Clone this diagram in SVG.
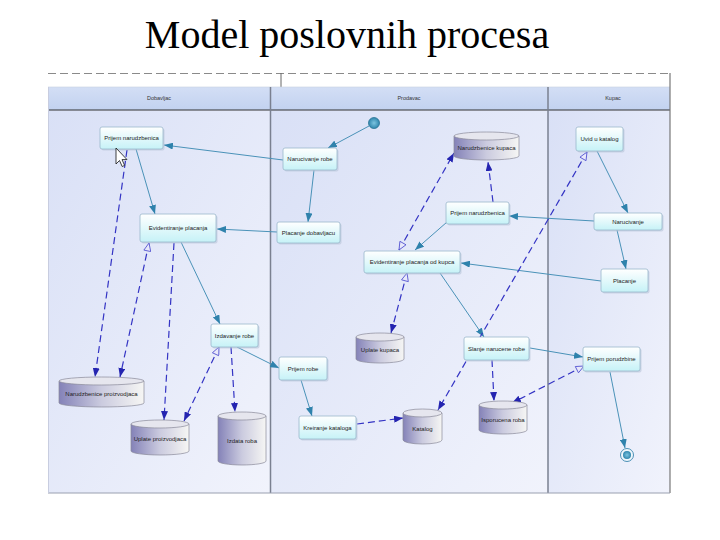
<svg xmlns="http://www.w3.org/2000/svg" width="720" height="540" viewBox="0 0 720 540">
<defs>
<style>
.title{font-family:"Liberation Serif","Times New Roman",serif;font-size:40px;fill:#000}
.lane{font-family:"Liberation Sans",Arial,sans-serif;font-size:5.5px;fill:#333;text-anchor:middle}
.lbl{font-family:"Liberation Sans",Arial,sans-serif;font-size:6px;fill:#222;text-anchor:middle}
.act{fill:url(#nodeG);stroke:#9bb8cc;stroke-width:0.8}
.sh{fill:#b8c4d8;opacity:0.6}
.cylb{fill:url(#cylG);stroke:#8a8a9a;stroke-width:0.7}
.cylt{fill:#e6e6ee;stroke:#8a8a9a;stroke-width:0.7}
.flow{stroke:#4a92b8;stroke-width:1;fill:none;marker-end:url(#aT)}
.obj{stroke:#3434c4;stroke-width:1.2;fill:none;stroke-dasharray:7 4;marker-end:url(#aB)}
.obj2{marker-start:url(#oB)}
.sep{stroke:#7a8090;stroke-width:1.5}
</style>
<linearGradient id="nodeG" x1="0" y1="0" x2="0" y2="1"><stop offset="0" stop-color="#ffffff"/><stop offset="1" stop-color="#c6f2f7"/></linearGradient>
<linearGradient id="cylG" x1="0" y1="0" x2="1" y2="0"><stop offset="0" stop-color="#8482b8"/><stop offset="0.5" stop-color="#cbcbdf"/><stop offset="1" stop-color="#f6f6f4"/></linearGradient>
<linearGradient id="laneG" x1="0" y1="0" x2="1" y2="1"><stop offset="0" stop-color="#d9e0f6"/><stop offset="1" stop-color="#f1f3fc"/></linearGradient>
<linearGradient id="headG" x1="0" y1="0" x2="0" y2="1"><stop offset="0" stop-color="#d3def5"/><stop offset="1" stop-color="#c2d2f0"/></linearGradient>
<radialGradient id="startG"><stop offset="0" stop-color="#7cc4e0"/><stop offset="1" stop-color="#2f86ad"/></radialGradient>
<marker id="aT" markerUnits="userSpaceOnUse" markerWidth="9" markerHeight="7" refX="9" refY="3.5" orient="auto"><path d="M0,0 L9,3.5 L0,7 z" fill="#2f82ac"/></marker>
<marker id="aB" markerUnits="userSpaceOnUse" markerWidth="9" markerHeight="7" refX="9" refY="3.5" orient="auto"><path d="M0,0 L9,3.5 L0,7 z" fill="#2424b0"/></marker>
<marker id="oB" markerUnits="userSpaceOnUse" markerWidth="10" markerHeight="8" refX="9" refY="4" orient="auto-start-reverse"><path d="M1,0.5 L9,4 L1,7.5 z" fill="#e8e8fa" stroke="#5050d0" stroke-width="0.8"/></marker>
</defs>

<rect width="720" height="540" fill="#ffffff"/>
<text class="title" x="347" y="48" text-anchor="middle">Model poslovnih procesa</text>

<g id="frame">
<rect x="48" y="87" width="622" height="23" fill="url(#headG)"/>
<rect x="48" y="110" width="222" height="383" fill="url(#laneG)"/>
<rect x="271" y="110" width="277" height="383" fill="url(#laneG)"/>
<rect x="548" y="110" width="122" height="383" fill="url(#laneG)"/>
<line x1="48" y1="73.5" x2="670" y2="73.5" stroke="#8a8a8a" stroke-width="1" stroke-dasharray="8 4"/>
<line x1="281" y1="73" x2="281" y2="87" stroke="#666" stroke-width="1"/>
<line x1="48" y1="87" x2="670" y2="87" stroke="#c8d0e0" stroke-width="0.6"/>
<line x1="48" y1="110" x2="670" y2="110" stroke="#333" stroke-width="1"/>
<line x1="270.5" y1="87" x2="270.5" y2="493" class="sep" stroke-width="1"/>
<line x1="548" y1="87" x2="548" y2="493" class="sep"/>
<line x1="670" y1="73" x2="670" y2="493" stroke="#777" stroke-width="1.2"/>
<line x1="48" y1="493" x2="670" y2="493" stroke="#9aa0b0" stroke-width="1"/>
<line x1="48.5" y1="87" x2="48.5" y2="493" stroke="#c8cde0" stroke-width="1"/>
<text class="lane" x="159" y="100">Dobavljac</text>
<text class="lane" x="409" y="100">Prodavac</text>
<text class="lane" x="613" y="100">Kupac</text>
</g>

<g id="connectors">
<path class="flow" d="M369,126 L328,148"/>
<path class="flow" d="M283,160 L164,145"/>
<path class="flow" d="M314,170 L308,222"/>
<path class="flow" d="M277,232 L217,229"/>
<path class="flow" d="M136,149 L155,214"/>
<path class="flow" d="M181,242 L220,324"/>
<path class="flow" d="M237,347 L279,368"/>
<path class="flow" d="M301,380 L312,416"/>
<path class="flow" d="M594,221 L509,216"/>
<path class="flow" d="M447,222 L415,250"/>
<path class="flow" d="M601,281 L461,263"/>
<path class="flow" d="M440,273 L484,337"/>
<path class="flow" d="M530,348 L583,357"/>
<path class="flow" d="M610,372 L625,448"/>
<path class="flow" d="M597,151 L628,213"/>
<path class="flow" d="M617,230 L626,269"/>
<path class="obj" d="M127,150 L95,377"/>
<path class="obj obj2" d="M149,243 L120,377"/>
<path class="obj" d="M174,243 L164,420"/>
<path class="obj obj2" d="M219,347 L184,421"/>
<path class="obj" d="M231,347 L235,412"/>
<path class="obj" d="M357,424 L403,418"/>
<path class="obj obj2" d="M587,152 L438,410"/>
<path class="obj obj2" d="M399,250 L454,153"/>
<path class="obj" d="M493,202 L488,162"/>
<path class="obj obj2" d="M407,273 L391,333"/>
<path class="obj" d="M492,360 L494,401"/>
<path class="obj obj2" d="M584,366 L512,403"/>
</g>

<g id="start"><circle cx="374" cy="123" r="5.5" fill="url(#startG)" stroke="#2a7396" stroke-width="0.8"/></g>
<g id="end"><circle cx="627" cy="455" r="6.5" fill="#eef6fb" stroke="#3a86ae" stroke-width="0.9"/><circle cx="627" cy="455" r="4" fill="url(#startG)"/></g>

<g id="prijem-narudzbenica-dob"><rect class="sh" x="101.5" y="128.5" width="63" height="22" rx="2"/><rect class="act" x="100" y="127" width="63" height="22" rx="2"/><text class="lbl" x="131.5" y="140">Prijem narudzbenica</text></g>
<g id="narucivanje-robe"><rect class="sh" x="284.5" y="149.5" width="54" height="22" rx="2"/><rect class="act" x="283" y="148" width="54" height="22" rx="2"/><text class="lbl" x="310" y="161">Narucivanje robe</text></g>
<g id="evidentiranje-placanja"><rect class="sh" x="141.5" y="215.5" width="76" height="28" rx="2"/><rect class="act" x="140" y="214" width="76" height="28" rx="2"/><text class="lbl" x="178" y="230">Evidentiranje placanja</text></g>
<g id="placanje-dobavljacu"><rect class="sh" x="278.5" y="223.5" width="63" height="21" rx="2"/><rect class="act" x="277" y="222" width="63" height="21" rx="2"/><text class="lbl" x="308.5" y="234.5">Placanje dobavljacu</text></g>
<g id="prijem-narudzbenica-prod"><rect class="sh" x="447.5" y="203.5" width="63" height="22" rx="2"/><rect class="act" x="446" y="202" width="63" height="22" rx="2"/><text class="lbl" x="477.5" y="215">Prijem narudzbenica</text></g>
<g id="evidentiranje-placanja-od-kupca"><rect class="sh" x="365.5" y="252.5" width="96" height="22" rx="2"/><rect class="act" x="364" y="251" width="96" height="22" rx="2"/><text class="lbl" x="412" y="264">Evidentiranje placanja od kupca</text></g>
<g id="uvid-u-katalog"><rect class="sh" x="577.5" y="128.5" width="47" height="24" rx="2"/><rect class="act" x="576" y="127" width="47" height="24" rx="2"/><text class="lbl" x="599.5" y="141">Uvid u katalog</text></g>
<g id="narucivanje"><rect class="sh" x="595.5" y="214.5" width="68" height="17" rx="2"/><rect class="act" x="594" y="213" width="68" height="17" rx="2"/><text class="lbl" x="628" y="223.5">Narucivanje</text></g>
<g id="placanje"><rect class="sh" x="602.5" y="270.5" width="47" height="23" rx="2"/><rect class="act" x="601" y="269" width="47" height="23" rx="2"/><text class="lbl" x="624.5" y="282.5">Placanje</text></g>
<g id="izdavanje-robe"><rect class="sh" x="212.5" y="325.5" width="47" height="23" rx="2"/><rect class="act" x="211" y="324" width="47" height="23" rx="2"/><text class="lbl" x="234.5" y="337.5">Izdavanje robe</text></g>
<g id="prijem-robe"><rect class="sh" x="280.5" y="358.5" width="48" height="23" rx="2"/><rect class="act" x="279" y="357" width="48" height="23" rx="2"/><text class="lbl" x="303" y="370.5">Prijem robe</text></g>
<g id="kreiranje-kataloga"><rect class="sh" x="300.5" y="417.5" width="57" height="23" rx="2"/><rect class="act" x="299" y="416" width="57" height="23" rx="2"/><text class="lbl" x="327.5" y="429.5">Kreiranje kataloga</text></g>
<g id="slanje-narucene-robe"><rect class="sh" x="465.5" y="338.5" width="65" height="23" rx="2"/><rect class="act" x="464" y="337" width="65" height="23" rx="2"/><text class="lbl" x="496.5" y="350.5">Slanje narucene robe</text></g>
<g id="prijem-porudzbine"><rect class="sh" x="584.5" y="348.5" width="57" height="24" rx="2"/><rect class="act" x="583" y="347" width="57" height="24" rx="2"/><text class="lbl" x="611.5" y="361">Prijem porudzbine</text></g>

<g id="narudzbenice-kupaca"><path class="cylb" d="M454,136 L454,156 A32.5,4 0 0 0 519,156 L519,136 Z"/><ellipse class="cylt" cx="486.5" cy="136" rx="32.5" ry="4"/><text class="lbl" x="486.5" y="150">Narudzbenice kupaca</text></g>
<g id="katalog"><path class="cylb" d="M403,413 L403,440 A19.5,4 0 0 0 442,440 L442,413 Z"/><ellipse class="cylt" cx="422.5" cy="413" rx="19.5" ry="4"/><text class="lbl" x="422.5" y="431">Katalog</text></g>
<g id="uplate-kupaca"><path class="cylb" d="M356,337 L356,359 A24,4 0 0 0 404,359 L404,337 Z"/><ellipse class="cylt" cx="380" cy="337" rx="24" ry="4"/><text class="lbl" x="380" y="352">Uplate kupaca</text></g>
<g id="isporucena-roba"><path class="cylb" d="M479,405 L479,430 A24,4 0 0 0 527,430 L527,405 Z"/><ellipse class="cylt" cx="503" cy="405" rx="24" ry="4"/><text class="lbl" x="503" y="422">Isporucena roba</text></g>
<g id="narudzbenice-proizvodjaca"><path class="cylb" d="M59,381 L59,403 A42.5,4 0 0 0 144,403 L144,381 Z"/><ellipse class="cylt" cx="101.5" cy="381" rx="42.5" ry="4"/><text class="lbl" x="101.5" y="396">Narudzbenice proizvodjaca</text></g>
<g id="uplate-proizvodjaca"><path class="cylb" d="M131,424 L131,451 A29,4 0 0 0 189,451 L189,424 Z"/><ellipse class="cylt" cx="160" cy="424" rx="29" ry="4"/><text class="lbl" x="160" y="441">Uplate proizvodjaca</text></g>
<g id="izdata-roba"><path class="cylb" d="M218,416 L218,461 A24,4 0 0 0 266,461 L266,416 Z"/><ellipse class="cylt" cx="242" cy="416" rx="24" ry="4"/><text class="lbl" x="242" y="443">Izdata roba</text></g>

<g id="cursor"><path d="M116,148 L116,164 L119.5,160.5 L122.2,166.5 L124.6,165.4 L122,159.6 L127,159.6 Z" fill="#ffffff" stroke="#111" stroke-width="0.8" stroke-linejoin="round"/></g>
</svg>
